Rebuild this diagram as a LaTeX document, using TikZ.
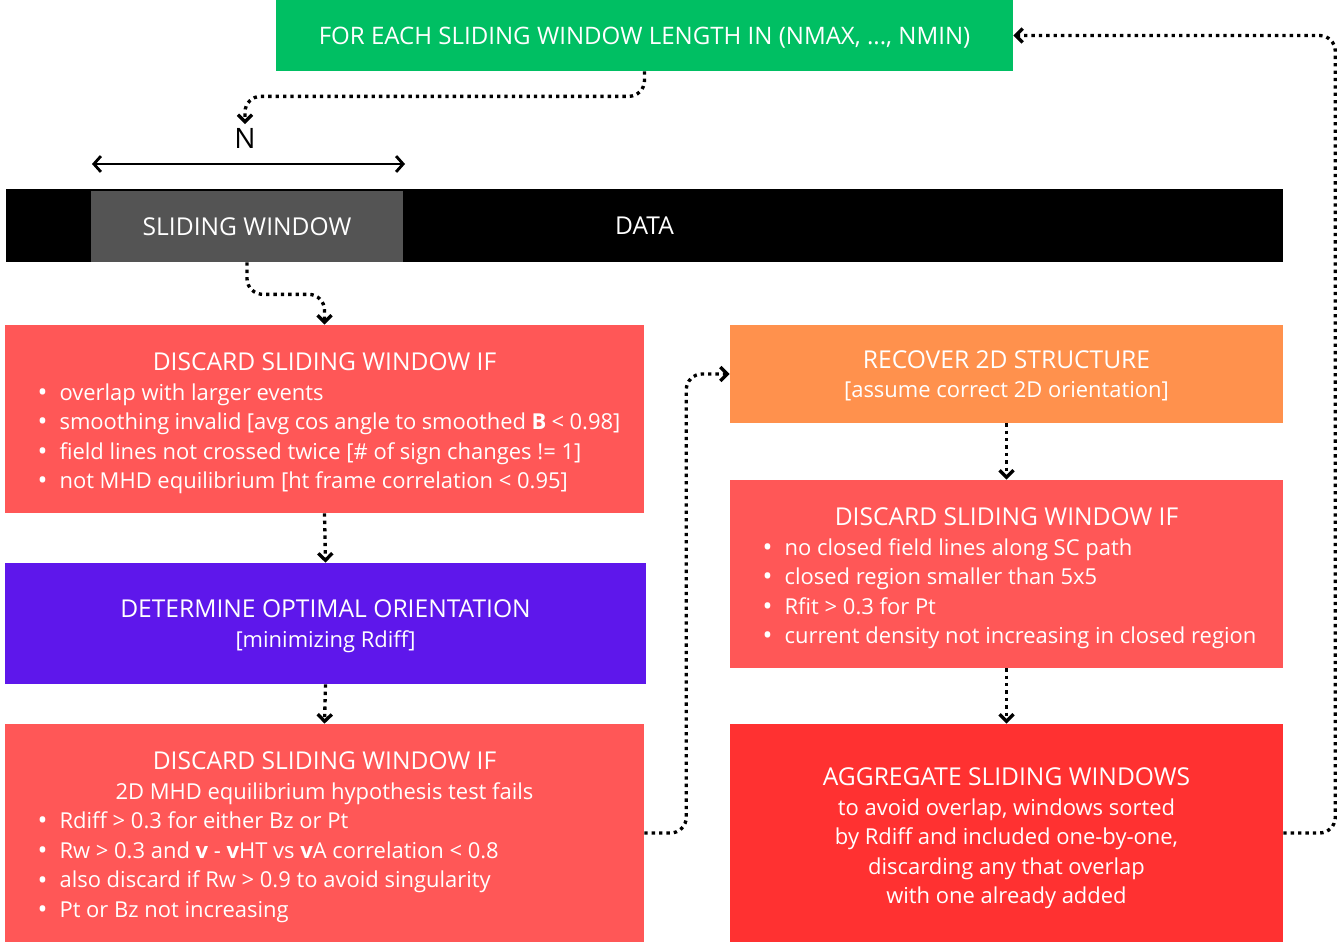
\documentclass[tikz,border=0pt]{standalone}
\usepackage{fontspec}
\setmainfont{Open Sans}
\usetikzlibrary{arrows.meta}
\definecolor{loopgreen}{RGB}{0,191,99}
\definecolor{discardred}{RGB}{255,87,87}
\definecolor{orientpurple}{RGB}{94,23,235}
\definecolor{recoverorange}{RGB}{255,145,77}
\definecolor{aggrred}{RGB}{255,49,49}
\definecolor{windowgray}{RGB}{84,84,84}
\newcommand{\itm}{\raisebox{-0.6pt}{\fontsize{15}{15}\selectfont\textbullet}\hspace{0.55em}}
\newcommand{\ttl}[1]{{\fontsize{14}{16.8}\selectfont #1}}
\tikzset{
  box/.style={inner sep=0pt, text=white, align=center, text depth=-2pt,
    font=\fontsize{12.5}{16.8}\selectfont},
  listbox/.style={box, text depth=48.4pt},
  flow/.style={line width=1.9pt, dash pattern=on 1.9pt off 2.3pt, rounded corners=9pt,
    -{Straight Barb[length=4pt,width=8pt]}},
  span/.style={line width=1.6pt, {Straight Barb[length=4pt,width=9pt]}-{Straight Barb[length=4pt,width=9pt]}},
}

\begin{document}
\begin{tikzpicture}[x=0.02cm, y=-0.02cm]
\useasboundingbox (0,0) rectangle (1343,942);
\node[box, fill=loopgreen, minimum width=14.74cm, minimum height=1.42cm, text depth=0pt,
  font=\fontsize{13.7}{16.8}\selectfont] (loop) at (644.5,35.5)
  {FOR EACH SLIDING WINDOW LENGTH IN (NMAX, ..., NMIN)};
\node[box, fill=black, minimum width=25.54cm, minimum height=1.46cm] (data) at (644.5,225.5) {\ttl{DATA}};
\node[box, fill=windowgray, minimum width=6.24cm, minimum height=1.42cm] (window) at (247,226.5) {\ttl{SLIDING WINDOW}};
\node[font=\fontsize{16}{18}\selectfont, inner sep=2pt] (nlab) at (245,138) {N};
\coordinate (nleft) at (92,164);
\coordinate (nright) at (405,164);
\node[listbox, fill=discardred, minimum width=12.78cm, minimum height=3.76cm] (discA) at (324.5,419)
  {\ttl{DISCARD SLIDING WINDOW IF}\\
   \hspace{0.18cm}\begin{tabular}[t]{@{}p{11.66cm}@{}}
   \itm overlap with larger events\\
   \itm smoothing invalid [avg cos angle to smoothed \textbf{B} < 0.98]\\
   \itm field lines not crossed twice [\# of sign changes != 1]\\
   \itm not MHD equilibrium [ht frame correlation < 0.95]
   \end{tabular}};
\node[box, fill=orientpurple, minimum width=12.82cm, minimum height=2.42cm] (orient) at (325.5,623.5)
  {\ttl{DETERMINE OPTIMAL ORIENTATION}\\ {[minimizing Rdiff]}};
\node[listbox, fill=discardred, minimum width=12.78cm, minimum height=4.36cm] (discB) at (324.5,833)
  {\ttl{DISCARD SLIDING WINDOW IF}\\
   2D MHD equilibrium hypothesis test fails\\
   \hspace{0.18cm}\begin{tabular}[t]{@{}p{11.66cm}@{}}
   \itm Rdiff > 0.3 for either Bz or Pt\\
   \itm Rw > 0.3 and \textbf{v} - \textbf{v}HT vs \textbf{v}A correlation < 0.8\\
   \itm also discard if Rw > 0.9 to avoid singularity\\
   \itm Pt or Bz not increasing
   \end{tabular}};
\node[box, fill=recoverorange, minimum width=11.06cm, minimum height=1.96cm] (recover) at (1006.5,374)
  {\ttl{RECOVER 2D STRUCTURE}\\ {[assume correct 2D orientation]}};
\node[listbox, fill=discardred, minimum width=11.06cm, minimum height=3.76cm] (discC) at (1006.5,574)
  {\ttl{DISCARD SLIDING WINDOW IF}\\
   \hspace{0.12cm}\begin{tabular}[t]{@{}l@{}}
   \itm no closed field lines along SC path\\
   \itm closed region smaller than 5x5\\
   \itm Rfit > 0.3 for Pt\\
   \itm current density not increasing in closed region
   \end{tabular}};
\node[box, fill=aggrred, minimum width=11.06cm, minimum height=4.36cm] (aggr) at (1006.5,833)
  {\rule{0pt}{13.5pt}\ttl{AGGREGATE SLIDING WINDOWS}\\
   to avoid overlap, windows sorted\\
   by Rdiff and included one-by-one,\\
   discarding any that overlap\\
   with one already added};
% connectors
\draw[span] (nleft) -- (nright);
\draw[flow] (loop.south) -- ++(0,25) -| (nlab.north);
\draw[flow] (window.south) -- ++(0,32) -| (discA.north);
\draw[flow] (discA.south) -- (orient.north);
\draw[flow] (orient.south) -- (discB.north);
\draw[flow] (discB.east) -- ++(42,0) |- (recover.west);
\draw[flow] (recover.south) -- (discC.north);
\draw[flow] (discC.south) -- (aggr.north);
\draw[flow] (aggr.east) -- ++(52,0) |- (loop.east);
\end{tikzpicture}
\end{document}
